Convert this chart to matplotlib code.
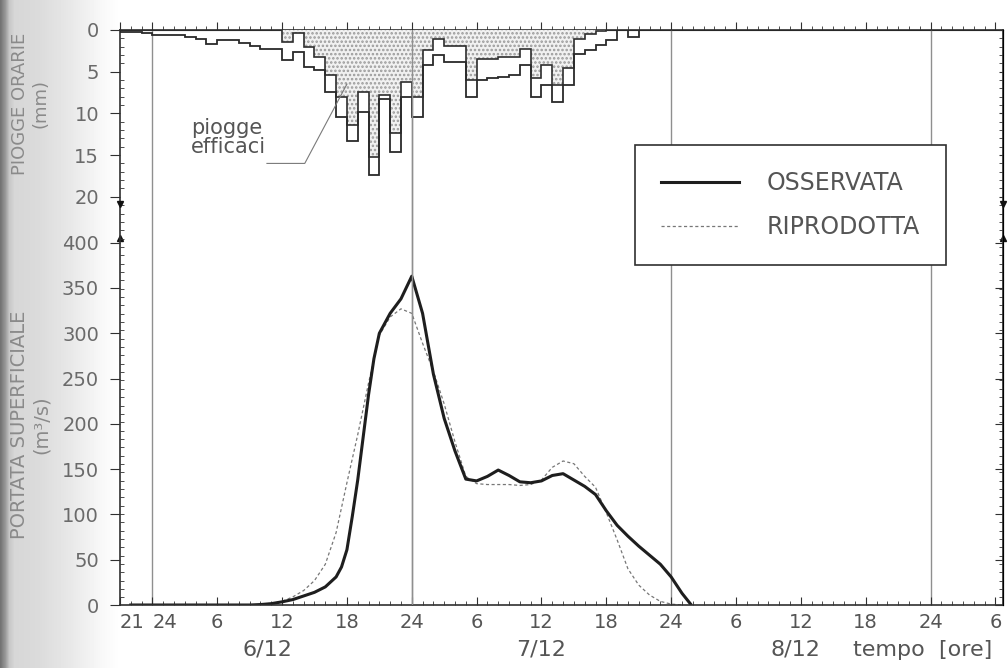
import numpy as np
import matplotlib
matplotlib.use("Agg")
import matplotlib.pyplot as plt
import matplotlib.transforms as mtransforms
from matplotlib.ticker import MultipleLocator

# piogge orarie (mm), un valore per ora; ora 0 = 24 del 5/12
ore_pioggia = list(range(-3, 46))
pioggia_totale = [0.2, 0.3, 0.4, 0.6, 0.6, 0.6, 0.8, 1.1, 1.7, 1.2, 1.2, 1.6, 1.9,
                  2.3, 2.3, 3.6, 2.6, 4.4, 4.8, 7.4, 10.4, 13.3, 9.8, 17.4, 8.3,
                  14.6, 8.1, 10.4, 4.2, 3.0, 3.8, 3.8, 8.0, 6.0, 5.8, 5.6, 5.4,
                  4.2, 8.0, 6.6, 8.6, 6.6, 2.9, 2.4, 1.8, 1.2, 0.0, 0.8]
pioggia_efficace = [0, 0, 0, 0, 0, 0, 0, 0, 0, 0, 0, 0, 0,
                    0, 0, 1.4, 0.4, 2.0, 3.2, 5.4, 8.0, 11.4, 7.4, 15.2, 7.8,
                    12.4, 6.2, 8.0, 2.4, 1.1, 1.9, 1.9, 6.0, 3.5, 3.5, 3.3, 3.3,
                    2.3, 5.8, 4.2, 6.6, 4.6, 1.1, 0.5, 0.1, 0, 0, 0]

# portata superficiale (m3/s)
t_oss = [-2, 0, 3, 6, 9, 10, 11, 12, 13, 14, 15, 16, 17, 17.5, 18, 18.5, 19, 19.5,
         20, 20.5, 21, 22, 23, 24, 25, 26, 27, 28, 29, 30, 31, 32, 33, 34, 35, 36,
         37, 38, 39, 40, 41, 42, 43, 44, 45, 46, 47, 48, 49, 49.8]
q_oss = [0, 0, 0, 0, 0, 0.5, 1.5, 3.5, 6, 10, 14, 20, 31, 42, 61, 98, 138, 185,
         232, 272, 300, 322, 338, 363, 322, 255, 206, 170, 139, 137, 142, 149, 143,
         136, 135, 137, 143, 145, 138, 131, 122, 104, 88, 76, 65, 55, 45, 31, 13, 1]

t_rip = [-2, 0, 3, 6, 9, 10, 11, 12, 13, 14, 15, 16, 17, 18, 19, 20, 21, 22, 23,
         24, 25, 26, 27, 28, 29, 30, 31, 32, 33, 34, 35, 36, 37, 38, 39, 40, 41,
         42, 43, 44, 45, 46, 47, 48, 49]
q_rip = [0, 0, 0, 0, 0, 0.5, 2, 4, 9, 16, 27, 45, 80, 135, 188, 245, 298, 318, 327,
         322, 289, 258, 222, 180, 142, 134, 133, 133, 133, 132, 133, 138, 152, 159,
         156, 142, 130, 102, 72, 40, 22, 11, 4, 1, 0]

tick_ore = [-3, 0, 6, 12, 18, 24, 30, 36, 42, 48, 54, 60, 66, 72, 78]
tick_lab = ['21', '24', '6', '12', '18', '24', '6', '12', '18', '24',
            '6', '12', '18', '24', '6']
giorni = ['6/12', '7/12', '8/12']
pos_giorni = [10.6, 36, 59.5]
mezzanotti = [0, 24, 48, 72]

plt.rcParams['font.family'] = ['DejaVu Sans']
plt.rcParams['hatch.linewidth'] = 1.2

col_testo = '#555555'
col_assi = '#303030'

fig = plt.figure(figsize=(10.08, 6.68), dpi=100)

# ombra della scansione sul bordo sinistro
bg = fig.add_axes([0, 0, 0.12, 1])
px = np.arange(121)
ombra = np.interp(px, [0, 5, 9, 14, 40, 70, 100, 120],
                  [0.45, 0.6, 0.78, 0.84, 0.86, 0.91, 0.97, 1.0])
bg.imshow(ombra[None, :], aspect='auto', cmap='gray', vmin=0, vmax=1,
          extent=(0, 1, 0, 1))
bg.axis('off')

ax = fig.add_axes([0.119, 0.0943, 0.876, 0.861])
ax.set_xlim(-3, 78.7)
ax.set_ylim(0, 635)

for g in mezzanotti:
    ax.axvline(g, color='#8f8f8f', lw=1.0, zorder=0.5)

l_rip, = ax.plot(t_rip, q_rip, color='#777777', lw=0.9, ls=(0, (2.5, 2)))
l_oss, = ax.plot(t_oss, q_oss, color='#1e1e1e', lw=2.2)

ax.set_yticks(range(0, 401, 50))
ax.set_xticks(tick_ore, tick_lab)
ax.xaxis.set_minor_locator(MultipleLocator(1))
ax.tick_params(axis='x', which='major', direction='in', length=6, pad=6,
               labelsize=14, labelcolor=col_testo, color=col_assi)
ax.tick_params(axis='x', which='minor', direction='in', length=3, color=col_assi)
ax.tick_params(axis='y', direction='out', length=7, pad=8, labelsize=14,
               labelcolor='#6a6a6a', color=col_assi)
xl = ax.get_xticklabels()
xl[0].set_ha('left')
xl[1].set_ha('left')
for s in ax.spines.values():
    s.set_color(col_assi)
    s.set_linewidth(1.2)

top = ax.secondary_xaxis('top')
top.set_xticks(tick_ore)
top.xaxis.set_minor_locator(MultipleLocator(1))
top.tick_params(which='major', direction='out', length=6, labeltop=False, color=col_assi)
top.tick_params(which='minor', direction='out', length=3, color=col_assi)

dx = ax.secondary_yaxis('right')
dx.set_yticks(range(0, 401, 50))
dx.tick_params(direction='in', length=6, labelright=False, color=col_assi)

# piogge (scala rovesciata in alto)
ax2 = ax.twinx()
ax2.set_ylim(68.9, 0)
ax2.stairs(pioggia_efficace, ore_pioggia, fill=True, facecolor='#f1f1f1',
           edgecolor='#9a9a9a', hatch='....', lw=0)
ax2.stairs(pioggia_efficace, ore_pioggia, color='#2e2e2e', lw=1.2)
ax2.stairs(pioggia_totale, ore_pioggia, color='#2a2a2a', lw=1.3)
ax2.axvline(24, color='#8f8f8f', lw=1.0)

ax2.yaxis.tick_left()
ax2.set_yticks([0, 5, 10, 15, 20])
ax2.yaxis.set_minor_locator(MultipleLocator(1))
ax2.set_ylim(68.9, 0)
ax2.tick_params(axis='y', which='major', direction='out', length=7, pad=8,
                labelsize=14, labelcolor='#6a6a6a', color=col_assi)
ax2.tick_params(axis='y', which='minor', direction='in', length=3, color=col_assi)
for s in ax2.spines.values():
    s.set_visible(False)

dx2 = ax2.secondary_yaxis('right')
dx2.set_yticks([0, 5, 10, 15, 20])
dx2.yaxis.set_minor_locator(MultipleLocator(1))
dx2.tick_params(which='both', direction='in', length=3, labelright=False, color=col_assi)

# segni di separazione tra le due scale
for xs in (-3, 78.7):
    ax2.plot([xs], [20.9], marker='v', ms=5, color='#111111', clip_on=False)
    ax.plot([xs], [405], marker='^', ms=5, color='#111111', clip_on=False)

ax2.text(3.6, 12.9, 'piogge\nefficaci', ha='left', va='center', fontsize=15,
         color=col_testo, linespacing=0.95)
ax2.plot([10.6, 14.1, 18.0], [16.0, 16.0, 6.5], color='#7a7a7a', lw=0.8)

leg = ax2.legend([l_oss, l_rip], ['OSSERVATA', 'RIPRODOTTA'], loc='upper left',
                 bbox_to_anchor=(0.583, 0.80), frameon=True, fancybox=False,
                 edgecolor=col_assi, framealpha=1, fontsize=17, handlelength=3.3,
                 handletextpad=1.2, labelspacing=0.85, borderpad=1.1,
                 borderaxespad=0)
leg.get_frame().set_linewidth(1.2)
for t in leg.get_texts():
    t.set_color(col_testo)

trans = mtransforms.blended_transform_factory(ax.transData, ax.transAxes)
for g, p in zip(giorni, pos_giorni):
    ax.text(p, -0.078, g, transform=trans, ha='center', va='center',
            fontsize=16, color=col_testo)
ax.text(64.8, -0.078, 'tempo  [ore]', transform=trans, ha='left', va='center',
        fontsize=16, color=col_testo, clip_on=False)

fig.text(0.030, 0.845, 'PIOGGE ORARIE\n(mm)', rotation=90, ha='center', va='center',
         fontsize=13, color='#8a8a8a', multialignment='center')
fig.text(0.030, 0.364, 'PORTATA SUPERFICIALE\n(m\u00b3/s)', rotation=90, ha='center',
         va='center', fontsize=14, color='#8a8a8a', multialignment='center')

fig.savefig('out.png', dpi=100)
